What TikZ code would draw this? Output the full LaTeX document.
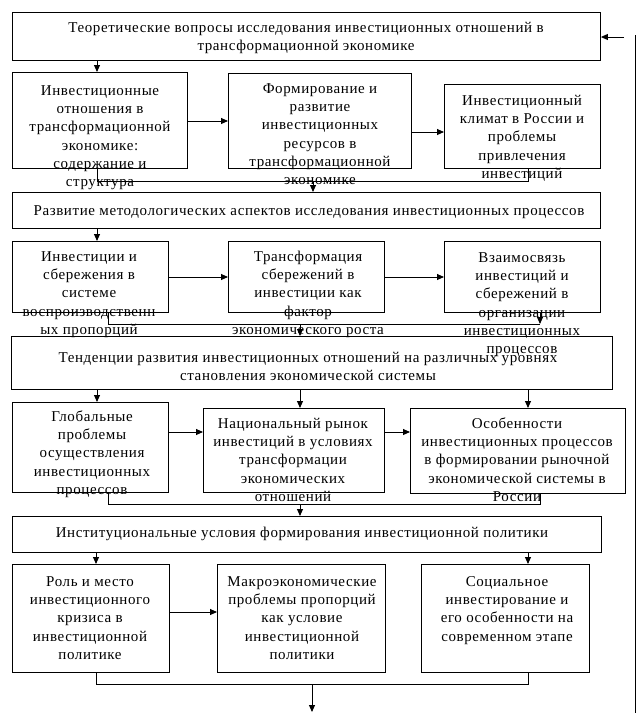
\documentclass[tikz,border=0pt]{standalone}
\usepackage{fontspec}
\setmainfont[LetterSpace=4]{Liberation Serif}
\usetikzlibrary{arrows.meta}
\begin{document}
\begin{tikzpicture}[x=1pt,y=-1pt,
  box/.style={draw, line width=0.9pt, inner sep=0pt, anchor=north west},
  txt/.style={align=center, inner sep=0pt, anchor=north, yshift=-1.5pt, font=\fontsize{15}{18.2}\selectfont},
  ln/.style={line width=0.9pt},
  arr/.style={line width=0.9pt, -{Triangle[length=7pt,width=6pt]}}]
\useasboundingbox (0,0) rectangle (637,713);
% x positions
\coordinate (x96) at (96,0);
\coordinate (x97) at (97,0);
\coordinate (x108) at (108,0);
\coordinate (x300) at (300,0);
\coordinate (x312) at (312,0);
\coordinate (x313) at (313,0);
\coordinate (x528) at (528,0);
\coordinate (x540) at (540,0);
% boxes
\node[box, minimum width=588pt, minimum height=48pt] (T) at (12,12) {};
\node[box, minimum width=175pt, minimum height=96pt] (A1) at (12,72) {};
\node[box, minimum width=183pt, minimum height=95pt] (A2) at (228,73) {};
\node[box, minimum width=156pt, minimum height=84pt] (A3) at (444,84) {};
\node[box, minimum width=588pt, minimum height=36pt] (B0) at (12,192) {};
\node[box, minimum width=156pt, minimum height=71pt] (B1) at (12,241) {};
\node[box, minimum width=156pt, minimum height=71pt] (B2) at (228,241) {};
\node[box, minimum width=156pt, minimum height=71pt] (B3) at (444,241) {};
\node[box, minimum width=601pt, minimum height=53pt] (C0) at (11,336) {};
\node[box, minimum width=156pt, minimum height=90pt] (C1) at (12,402) {};
\node[box, minimum width=181pt, minimum height=84pt] (C2) at (203,408) {};
\node[box, minimum width=215pt, minimum height=85pt] (C3) at (410,408) {};
\node[box, minimum width=589pt, minimum height=36pt] (D0) at (12,516) {};
\node[box, minimum width=157pt, minimum height=108pt] (D1) at (12,564) {};
\node[box, minimum width=168pt, minimum height=108pt] (D2) at (217,564) {};
\node[box, minimum width=168pt, minimum height=108pt] (D3) at (421,564) {};
% texts
\node[txt] (tT) at (306,18) {\strut Теоретические вопросы исследования инвестиционных отношений в\\трансформационной экономике};
\node[txt] (tA1) at (100,81) {\strut Инвестиционные\\отношения  в\\трансформационной\\экономике:\\содержание и\\структура};
\node[txt] (tA2) at (320,79) {\strut Формирование и\\развитие\\инвестиционных\\ресурсов  в\\трансформационной\\экономике};
\node[txt] (tA3) at (522,91) {\strut Инвестиционный\\климат в России и\\проблемы\\привлечения\\инвестиций};
\node[txt] (tB0) at (309,201) {\strut Развитие методологических аспектов исследования инвестиционных процессов};
\node[txt] (tB1) at (89,247) {\strut Инвестиции и\\сбережения в\\системе\\воспроизводственн\\ых пропорций};
\node[txt] (tB2) at (308,247) {\strut Трансформация\\сбережений в\\инвестиции как\\фактор\\экономического роста};
\node[txt] (tB3) at (522,248) {\strut Взаимосвязь\\инвестиций и\\сбережений в\\организации\\инвестиционных\\процессов};
\node[txt] (tC0) at (308,348) {\strut Тенденции развития инвестиционных отношений на различных уровнях\\становления экономической системы};
\node[txt] (tC1) at (92,407) {\strut Глобальные\\проблемы\\осуществления\\инвестиционных\\процессов};
\node[txt] (tC2) at (293,414) {\strut Национальный рынок\\инвестиций в условиях\\трансформации\\экономических\\отношений};
\node[txt] (tC3) at (517,414) {\strut Особенности\\инвестиционных процессов\\в формировании рыночной\\экономической системы в\\России};
\node[txt] (tD0) at (302,523) {\strut Институциональные условия формирования инвестиционной политики};
\node[txt] (tD1) at (90,572) {\strut Роль и место\\инвестиционного\\кризиса в\\инвестиционной\\политике};
\node[txt] (tD2) at (302,572) {\strut Макроэкономические\\проблемы пропорций\\как условие\\инвестиционной\\политики};
\node[txt] (tD3) at (507,572) {\strut Социальное\\инвестирование и\\его особенности на\\современном этапе};
% row 1
\draw[arr] (T.south -| x97) -- (A1.north -| x97);
\draw[arr] (A1.east |- 0,121) -- (A2.west |- 0,121);
\draw[arr] (A2.east |- 0,132) -- (A3.west |- 0,132);
\draw[ln] (A1.south -| x97) -- (x97 |- 0,181) -- (x528 |- 0,181) -- (A3.south -| x528);
\draw[arr] (x313 |- 0,181) -- (B0.north -| x313);
% row 2
\draw[arr] (B0.south -| x97) -- (B1.north -| x97);
\draw[arr] (B1.east |- 0,277) -- (B2.west |- 0,277);
\draw[arr] (B2.east |- 0,277) -- (B3.west |- 0,277);
\draw[ln] (B1.south -| x108) -- (x108 |- 0,324) -- (x540 |- 0,324);
\draw[arr] (B3.south -| x540) -- (x540 |- 0,324);
\draw[arr] (x300 |- 0,324) -- (C0.north -| x300);
% row 3
\draw[arr] (C0.south -| x97) -- (C1.north -| x97);
\draw[arr] (C0.south -| x300) -- (C2.north -| x300);
\draw[arr] (C0.south -| x528) -- (C3.north -| x528);
\draw[arr] (C1.east |- 0,432) -- (C2.west |- 0,432);
\draw[arr] (C2.east |- 0,432) -- (C3.west |- 0,432);
\draw[ln] (C1.south -| x108) -- (x108 |- 0,504) -- (x540 |- 0,504) -- (C3.south -| x540);
\draw[arr] (x300 |- 0,504) -- (D0.north -| x300);
% row 4
\draw[arr] (D0.south -| x96) -- (D1.north -| x96);
\draw[arr] (D0.south -| x528) -- (D3.north -| x528);
\draw[arr] (D1.east |- 0,612) -- (D2.west |- 0,612);
\draw[ln] (D1.south -| x96) -- (x96 |- 0,684) -- (x528 |- 0,684) -- (D3.south -| x528);
\coordinate (out) at (312,712);
\draw[arr] (x312 |- 0,684) -- (out);
% right return line
\coordinate (rin) at (624,37);
\coordinate (rtop) at (635,35);
\coordinate (rbot) at (635,713);
\draw[ln] (rtop) -- (rbot);
\draw[arr] (rin) -- (T.east |- rin);
\end{tikzpicture}
\end{document}
